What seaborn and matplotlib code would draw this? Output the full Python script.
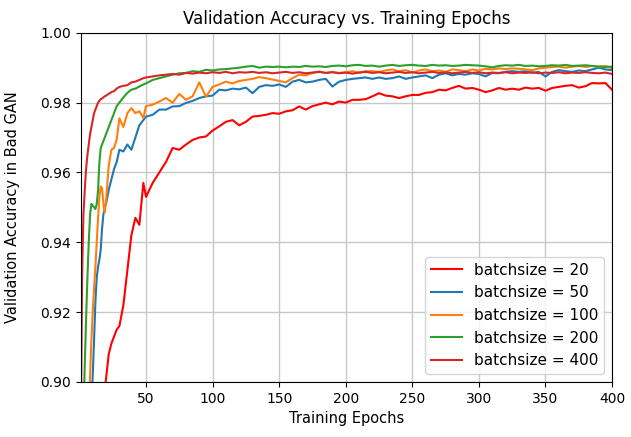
import numpy as np
import pandas as pd
import matplotlib
matplotlib.use('Agg')
import matplotlib.pyplot as plt
import seaborn as sns

epochs = list(range(1, 21)) + [22, 24, 26, 28, 30, 33, 36, 39, 42, 45, 48] + list(range(50, 401, 5))

acc_20 = [0.62, 0.68, 0.72, 0.75, 0.78, 0.80, 0.82, 0.83, 0.84, 0.85,
          0.86, 0.865, 0.87, 0.875, 0.88, 0.885, 0.89, 0.894, 0.898, 0.901,
          0.908, 0.911, 0.913, 0.915, 0.916, 0.922, 0.932, 0.942, 0.947, 0.945, 0.957,
          0.953, 0.957, 0.960, 0.963, 0.967, 0.9665, 0.968, 0.9693, 0.9700, 0.9703,
          0.9720, 0.9732, 0.9745, 0.9750, 0.9735, 0.9745, 0.9760, 0.9762, 0.9765, 0.9770,
          0.9768, 0.9775, 0.9778, 0.9789, 0.9780, 0.9790, 0.9795, 0.9800, 0.9795, 0.9803,
          0.9800, 0.9808, 0.9808, 0.9810, 0.9818, 0.9827, 0.9820, 0.9818, 0.9813, 0.9818,
          0.9822, 0.9822, 0.9828, 0.9830, 0.9837, 0.9835, 0.9842, 0.9848, 0.9840, 0.9842,
          0.9837, 0.9830, 0.9835, 0.9842, 0.9837, 0.9840, 0.9837, 0.9843, 0.9840, 0.9842,
          0.9834, 0.9842, 0.9845, 0.9848, 0.9850, 0.9843, 0.9847, 0.9856, 0.9855, 0.9856,
          0.9837]

acc_50 = [0.70, 0.74, 0.77, 0.80, 0.82, 0.84, 0.86, 0.875, 0.893, 0.902,
          0.912, 0.923, 0.930, 0.933, 0.935, 0.938, 0.944, 0.948, 0.950, 0.951,
          0.955, 0.958, 0.961, 0.963, 0.9665, 0.966, 0.968, 0.9665, 0.970, 0.9735, 0.975,
          0.9760, 0.9765, 0.9780, 0.9780, 0.9789, 0.9790, 0.9799, 0.9805, 0.9813, 0.9818,
          0.9820, 0.9837, 0.9835, 0.9840, 0.9838, 0.9843, 0.9827, 0.9845, 0.9850, 0.9848,
          0.9852, 0.9845, 0.9860, 0.9865, 0.9858, 0.9860, 0.9865, 0.9868, 0.9846, 0.9860,
          0.9865, 0.9868, 0.9870, 0.9872, 0.9868, 0.9872, 0.9868, 0.9870, 0.9875, 0.9868,
          0.9872, 0.9875, 0.9878, 0.9870, 0.9880, 0.9884, 0.9878, 0.9882, 0.9880, 0.9884,
          0.9882, 0.9875, 0.9885, 0.9884, 0.9888, 0.9890, 0.9888, 0.9890, 0.9885, 0.9888,
          0.9875, 0.9888, 0.9893, 0.9890, 0.9888, 0.9892, 0.9890, 0.9895, 0.9900, 0.9895,
          0.9893]

acc_100 = [0.72, 0.76, 0.79, 0.82, 0.85, 0.87, 0.89, 0.902, 0.912, 0.920,
           0.927, 0.933, 0.940, 0.947, 0.953, 0.956, 0.9555, 0.951, 0.9485, 0.952,
           0.962, 0.9665, 0.967, 0.9695, 0.9755, 0.973, 0.977, 0.9784, 0.977, 0.9775, 0.9756,
           0.9790, 0.9794, 0.9803, 0.9813, 0.9800, 0.9825, 0.9808, 0.9818, 0.9858, 0.9817,
           0.9845, 0.9852, 0.9860, 0.9855, 0.9862, 0.9865, 0.9868, 0.9873, 0.9870, 0.9866,
           0.9862, 0.9858, 0.9870, 0.9880, 0.9878, 0.9885, 0.9889, 0.9885, 0.9888, 0.9885,
           0.9887, 0.9890, 0.9886, 0.9890, 0.9890, 0.9888, 0.9892, 0.9895, 0.9890, 0.9893,
           0.9886, 0.9892, 0.9895, 0.9890, 0.9892, 0.9888, 0.9895, 0.9893, 0.9890, 0.9895,
           0.9892, 0.9897, 0.9895, 0.9898, 0.9896, 0.9898, 0.9897, 0.9895, 0.9893, 0.9898,
           0.9900, 0.9902, 0.9903, 0.9900, 0.9903, 0.9905, 0.9902, 0.9905, 0.9903, 0.9905,
           0.9898]

acc_200 = [0.82, 0.86, 0.89, 0.905, 0.918, 0.930, 0.940, 0.948, 0.951, 0.9505,
           0.950, 0.9495, 0.951, 0.955, 0.963, 0.967, 0.968, 0.969, 0.970, 0.971,
           0.973, 0.975, 0.977, 0.979, 0.980, 0.9815, 0.9828, 0.9837, 0.984, 0.9846, 0.9852,
           0.9855, 0.9865, 0.9870, 0.9875, 0.9880, 0.9884, 0.9885, 0.9890, 0.9888, 0.9894,
           0.9892, 0.9895, 0.9896, 0.9898, 0.9900, 0.9903, 0.9905, 0.9900, 0.9903, 0.9902,
           0.9903, 0.9901, 0.9903, 0.9902, 0.9905, 0.9903, 0.9904, 0.9902, 0.9905, 0.9906,
           0.9904, 0.9907, 0.9908, 0.9905, 0.9906, 0.9903, 0.9906, 0.9908, 0.9905, 0.9907,
           0.9908, 0.9906, 0.9905, 0.9908, 0.9906, 0.9907, 0.9905, 0.9906, 0.9908, 0.9907,
           0.9906, 0.9904, 0.9901, 0.9905, 0.9907, 0.9906, 0.9908, 0.9905, 0.9906, 0.9904,
           0.9905, 0.9907, 0.9906, 0.9908, 0.9905, 0.9906, 0.9907, 0.9905, 0.9903, 0.9902,
           0.9903]

acc_400 = [0.885, 0.930, 0.948, 0.955, 0.961, 0.965, 0.968, 0.971, 0.973, 0.975,
           0.977, 0.978, 0.979, 0.980, 0.9805, 0.981, 0.9812, 0.9815, 0.9818, 0.982,
           0.9825, 0.983, 0.9833, 0.984, 0.9845, 0.9848, 0.985, 0.9858, 0.986, 0.9865, 0.987,
           0.9872, 0.9875, 0.9878, 0.9880, 0.9882, 0.9880, 0.9885, 0.9883, 0.9886, 0.9884,
           0.9887, 0.9885, 0.9888, 0.9884, 0.9887, 0.9886, 0.9888, 0.9885, 0.9887, 0.9884,
           0.9886, 0.9888, 0.9885, 0.9887, 0.9884, 0.9886, 0.9888, 0.9885, 0.9887, 0.9884,
           0.9886, 0.9883, 0.9886, 0.9888, 0.9885, 0.9887, 0.9884, 0.9886, 0.9888, 0.9885,
           0.9887, 0.9884, 0.9886, 0.9888, 0.9885, 0.9887, 0.9884, 0.9886, 0.9888, 0.9885,
           0.9887, 0.9884, 0.9886, 0.9885, 0.9887, 0.9884, 0.9886, 0.9885, 0.9887, 0.9884,
           0.9886, 0.9885, 0.9887, 0.9884, 0.9886, 0.9885, 0.9887, 0.9885, 0.9884, 0.9886,
           0.9882]

batch_labels = ['batchsize = 20', 'batchsize = 50', 'batchsize = 100',
                'batchsize = 200', 'batchsize = 400']
colors = ['red', 'tab:blue', 'tab:orange', 'tab:green', 'tab:red']

fig = plt.figure(figsize=(6.31, 4.37), dpi=100)
ax = fig.add_axes([0.128, 0.126, 0.842, 0.799])

for vals, lab, c in zip([acc_20, acc_50, acc_100, acc_200, acc_400], batch_labels, colors):
    sns.lineplot(x=epochs, y=vals, color=c, label=lab, linewidth=1.5, ax=ax)

ax.set_xlim(1, 400)
ax.set_ylim(0.90, 1.00)
ax.set_xticks([50, 100, 150, 200, 250, 300, 350, 400])
ax.set_yticks([0.90, 0.92, 0.94, 0.96, 0.98, 1.00])
ax.set_yticklabels(['0.90', '0.92', '0.94', '0.96', '0.98', '1.00'])
ax.grid(True, color='#c8c8c8', linewidth=1.0)
ax.set_axisbelow(True)
ax.tick_params(labelsize=10)
ax.set_title('Validation Accuracy vs. Training Epochs', fontsize=12)
ax.set_xlabel('Training Epochs', fontsize=10.5)
ax.set_ylabel('Validation Accuracy in Bad GAN', fontsize=10.5)
ax.yaxis.set_label_coords(-0.115, 0.5)
ax.legend(loc='lower right', fontsize=11)

fig.savefig('out.png', dpi=100)
